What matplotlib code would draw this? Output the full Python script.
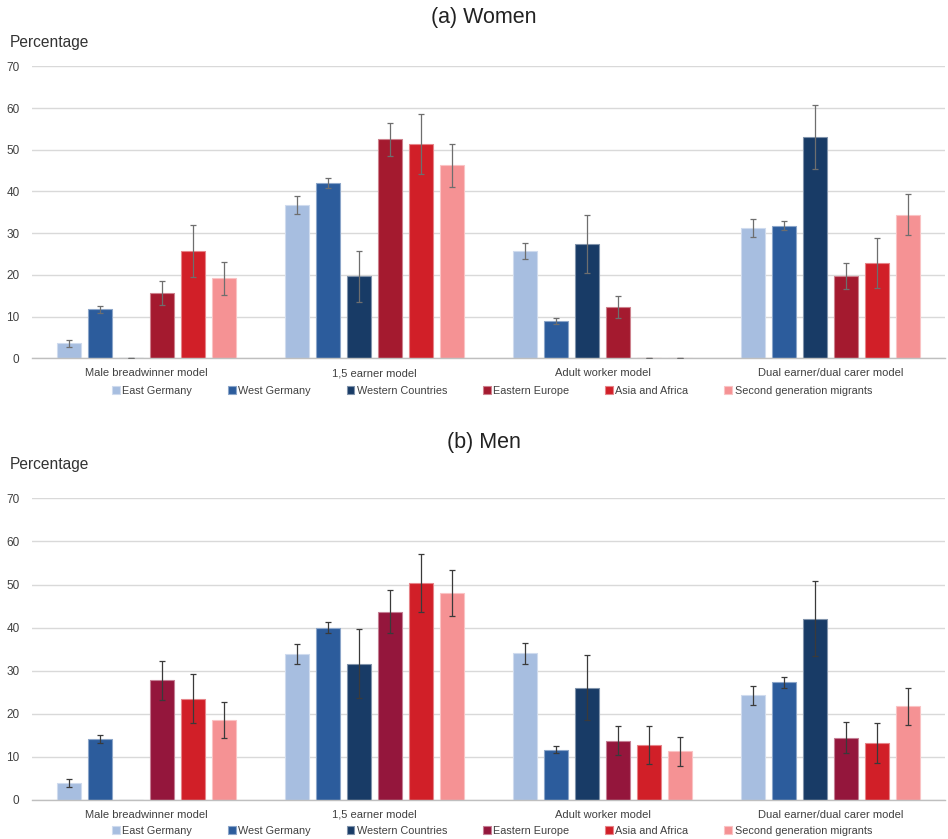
import matplotlib
matplotlib.use("Agg")
import matplotlib.pyplot as plt
import numpy as np
from matplotlib.colors import to_rgb

plt.rcParams["font.family"] = ["Liberation Sans", "DejaVu Sans"]

models = ["Male breadwinner model", "1,5 earner model",
          "Adult worker model", "Dual earner/dual carer model"]
groups = ["East Germany", "West Germany", "Western Countries",
          "Eastern Europe", "Asia and Africa", "Second generation migrants"]

# Women: share per group (rows) and model (columns), with half-width of the CI
women_east_germany = [3.6, 36.7, 25.7, 31.2]
women_west_germany = [11.7, 42.0, 9.0, 31.8]
women_western_countries = [0.0, 19.7, 27.4, 53.0]
women_eastern_europe = [15.6, 52.5, 12.4, 19.7]
women_asia_africa = [25.8, 51.4, 0.0, 22.9]
women_second_gen = [19.2, 46.3, 0.0, 34.4]

women_err_east_germany = [0.8, 2.2, 2.0, 2.1]
women_err_west_germany = [0.85, 1.2, 0.7, 1.15]
women_err_western_countries = [0.0, 6.1, 6.9, 7.7]
women_err_eastern_europe = [2.9, 4.0, 2.65, 3.15]
women_err_asia_africa = [6.25, 7.2, 0.0, 6.0]
women_err_second_gen = [4.0, 5.15, 0.0, 4.95]

# Men
men_east_germany = [3.9, 33.9, 34.0, 24.3]
men_west_germany = [14.1, 40.0, 11.7, 27.3]
men_western_countries = [0.0, 31.6, 26.1, 42.1]
men_eastern_europe = [27.8, 43.7, 13.8, 14.5]
men_asia_africa = [23.5, 50.3, 12.7, 13.2]
men_second_gen = [18.6, 48.1, 11.3, 21.7]

men_err_east_germany = [0.95, 2.4, 2.45, 2.25]
men_err_west_germany = [0.95, 1.2, 0.85, 1.2]
men_err_western_countries = [0.0, 8.0, 7.6, 8.6]
men_err_eastern_europe = [4.5, 4.95, 3.45, 3.5]
men_err_asia_africa = [5.7, 6.75, 4.45, 4.55]
men_err_second_gen = [4.1, 5.35, 3.4, 4.4]

yticks = [0, 10, 20, 30, 40, 50, 60, 70]

women_colors = ["#A7BEE0", "#2C5C9C", "#183B66", "#A41A2F", "#D11F28", "#F59294"]
men_colors = ["#A7BEE0", "#2C5C9C", "#183B66", "#94163C", "#D11F28", "#F59294"]

women_vals = [women_east_germany, women_west_germany, women_western_countries,
              women_eastern_europe, women_asia_africa, women_second_gen]
women_errs = [women_err_east_germany, women_err_west_germany,
              women_err_western_countries, women_err_eastern_europe,
              women_err_asia_africa, women_err_second_gen]
men_vals = [men_east_germany, men_west_germany, men_western_countries,
            men_eastern_europe, men_asia_africa, men_second_gen]
men_errs = [men_err_east_germany, men_err_west_germany,
            men_err_western_countries, men_err_eastern_europe,
            men_err_asia_africa, men_err_second_gen]

fig = plt.figure(figsize=(9.48, 8.39), dpi=100)


def lighten(c, f=0.45):
    r, g, b = to_rgb(c)
    return (r + (1 - r) * f, g + (1 - g) * f, b + (1 - b) * f)


def panel(rect, vals, errs, colors, ecolor, show_zero_err):
    ax = fig.add_axes(rect)
    x = np.arange(len(models))
    pitch = 0.136
    width = 0.105
    handles = []
    for i, (v, e, c) in enumerate(zip(vals, errs, colors)):
        pos = x + (i - 2.5) * pitch
        b = ax.bar(pos, v, width, color=c, edgecolor=lighten(c), linewidth=0.8,
                   label=groups[i], zorder=2)
        handles.append(b)
        v = np.asarray(v, dtype=float)
        e = np.asarray(e, dtype=float)
        mask = (v > 0) | show_zero_err[i]
        if mask.any():
            ax.errorbar(pos[mask], v[mask], yerr=e[mask], fmt="none",
                        ecolor=ecolor, elinewidth=0.9, capsize=2.2,
                        capthick=0.9, zorder=3)
    ax.set_xlim(-0.5, 3.5)
    ax.set_ylim(0, 70)
    ax.set_yticks(yticks)
    ax.set_yticklabels([str(t) for t in yticks])
    ax.set_xticks(x)
    ax.set_xticklabels(models)
    ax.tick_params(axis="both", length=0, colors="#404040")
    ax.tick_params(axis="y", pad=9, labelsize=8.5)
    ax.tick_params(axis="x", pad=7, labelsize=8)
    ax.grid(axis="y", color="#D9D9D9", linewidth=1.0, zorder=0)
    ax.set_axisbelow(True)
    for s in ["top", "right", "left"]:
        ax.spines[s].set_visible(False)
    ax.spines["bottom"].set_color("#BFBFBF")
    ax.spines["bottom"].set_linewidth(1.0)
    return ax, handles


W, H = 948, 839
top_rect = [32 / W, (H - 358.3) / H, 913 / W, (358.3 - 66.3) / H]
bot_rect = [32 / W, (H - 800) / H, 913 / W, (800 - 498.3) / H]

women_zero = [False, False, True, False, True, True]
men_zero = [False, False, False, False, False, False]

ax1, h1 = panel(top_rect, women_vals, women_errs, women_colors, "#6E6E6E", women_zero)
ax2, h2 = panel(bot_rect, men_vals, men_errs, men_colors, "#3A3A3A", men_zero)

for ax, handles, ycen in [(ax1, h1, 391), (ax2, h2, 831)]:
    ax.legend(handles=handles, labels=groups, ncol=6, loc="center",
              bbox_to_anchor=(492 / W, (H - ycen) / H),
              bbox_transform=fig.transFigure, frameon=False,
              fontsize=7.8, handlelength=0.7, handleheight=0.7,
              handletextpad=0.25, columnspacing=3.3, labelcolor="#404040",
              borderpad=0, borderaxespad=0)

fig.text(484 / W, 1 - 18 / H, "(a) Women", ha="center", va="center",
         fontsize=15.5, color="#222222")
fig.text(484 / W, 1 - 442 / H, "(b) Men", ha="center", va="center",
         fontsize=15.5, color="#222222")
fig.text(10 / W, 1 - 42 / H, "Percentage", ha="left", va="center",
         fontsize=11.2, color="#333333")
fig.text(10 / W, 1 - 464 / H, "Percentage", ha="left", va="center",
         fontsize=11.2, color="#333333")

fig.savefig("out.png", dpi=100, facecolor="white")
